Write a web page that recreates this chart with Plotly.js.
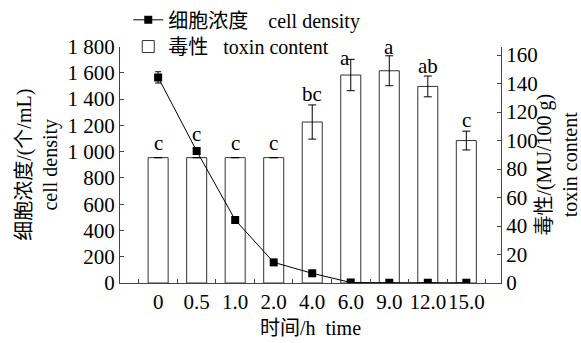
<!DOCTYPE html>
<html>
<head>
<meta charset="utf-8">
<script src="https://cdn.plot.ly/plotly-3.0.1.min.js"></script>
<style>html,body{margin:0;padding:0;background:#fff;}#chart{width:581px;height:343px;}</style>
</head>
<body>
<div id="chart"></div>
<script>
// ---- data ----
var timeLabels = ['0', '0.5', '1.0', '2.0', '4.0', '6.0', '9.0', '12.0', '15.0'];
var cellDensity = [1565, 1005, 480, 157, 74, 4, 2, 2, 2];
var cellDensityErr = [43, 25, 0, 0, 0, 0, 0, 0, 0];
var toxin = [88, 88, 88, 88, 113, 146, 149, 138, 100];
var toxinErr = [0, 0, 0, 0, 12, 11, 10.5, 7.3, 6.6];
var sigLetters = ['c', 'c', 'c', 'c', 'bc', 'a', 'a', 'ab', 'c'];

var FONT = "'Liberation Serif', 'Times New Roman', 'Noto Sans CJK SC', serif";
var AX = '#444';
var NB = '\u00a0';

var lineTrace = {
  type: 'scatter', mode: 'lines+markers',
  name: '细胞浓度' + NB + NB + NB + NB + 'cell density',
  x: timeLabels, y: cellDensity, yaxis: 'y2', legend: 'legend',
  line: {color: '#000', width: 1},
  marker: {symbol: 'square', size: 8, color: '#000'},
  error_y: {type: 'data', array: cellDensityErr, visible: true, color: '#000', thickness: 1, width: 3}
};
var barTrace = {
  type: 'bar', legend: 'legend2',
  name: '毒性' + NB + NB + NB + 'toxin content',
  x: timeLabels, y: toxin, yaxis: 'y',
  width: 0.52,
  marker: {color: '#fff', line: {color: '#333', width: 1}},
  error_y: {type: 'data', array: toxinErr, visible: true, color: '#000', thickness: 1, width: 4}
};

// small per-label nudges (styling only)
var nudgeX = [0, 0, 0, 0, 0, -6, 0, 0, 0];
var nudgeY = [15, 24, 15, 15, 11, 1, 9, 10, 11];
var annotations = sigLetters.map(function (s, i) {
  return {
    x: i, y: toxin[i] + toxinErr[i], xref: 'x', yref: 'y',
    text: s, showarrow: false, yanchor: 'middle', xanchor: 'center',
    xshift: nudgeX[i], yshift: nudgeY[i],
    font: {family: FONT, size: 21, color: '#000'}
  };
});

var H = 283; // paper height in px (margin t = 0)
var legendStyle = function (yc) {
  return {x: 10 / 461, xref: 'paper', y: 1 - yc / H, xanchor: 'left', yanchor: 'middle',
          bgcolor: 'rgba(0,0,0,0)', font: {family: FONT, size: 20, color: '#000'},
          itemwidth: 30, borderwidth: 0};
};

var layout = {
  width: 581, height: 343,
  margin: {l: 120, r: 80, t: 0, b: 60},
  paper_bgcolor: '#fff', plot_bgcolor: '#fff',
  font: {family: FONT, size: 21, color: '#000'},
  separators: '. ',
  showlegend: true,
  legend: legendStyle(17),
  legend2: legendStyle(44),
  xaxis: {
    type: 'category', range: [-0.99, 8.9],
    showline: true, linecolor: AX, linewidth: 1,
    ticks: 'inside', ticklen: 4, tickcolor: AX, tickson: 'boundaries',
    tickangle: 0,
    showgrid: false, zeroline: false,
    tickfont: {family: FONT, size: 21},
    title: {text: '时间/h' + NB + NB + 'time', font: {family: FONT, size: 20}, standoff: 7}
  },
  yaxis: {
    side: 'right', range: [0, 166], dtick: 20, tick0: 0,
    domain: [0, (H - 44) / H],
    showline: true, linecolor: AX, linewidth: 1,
    ticks: 'inside', ticklen: 4, tickcolor: AX,
    showgrid: false, zeroline: false,
    tickfont: {family: FONT, size: 21},
    title: {text: '毒性/(MU/100 g)<br>toxin content', font: {family: FONT, size: 20}, standoff: 6}
  },
  yaxis2: {
    overlaying: 'y', side: 'left', range: [0, 1800], dtick: 200, tick0: 0,
    separatethousands: true,
    showline: true, linecolor: AX, linewidth: 1,
    ticks: 'inside', ticklen: 4, tickcolor: AX,
    showgrid: false, zeroline: false,
    tickfont: {family: FONT, size: 21},
    title: {text: '细胞浓度/(个/mL)<br>cell density', font: {family: FONT, size: 20}, standoff: 4}
  },
  annotations: annotations
};

Plotly.newPlot('chart', [lineTrace, barTrace], layout, {displayModeBar: false, staticPlot: true});
</script>
</body>
</html>
